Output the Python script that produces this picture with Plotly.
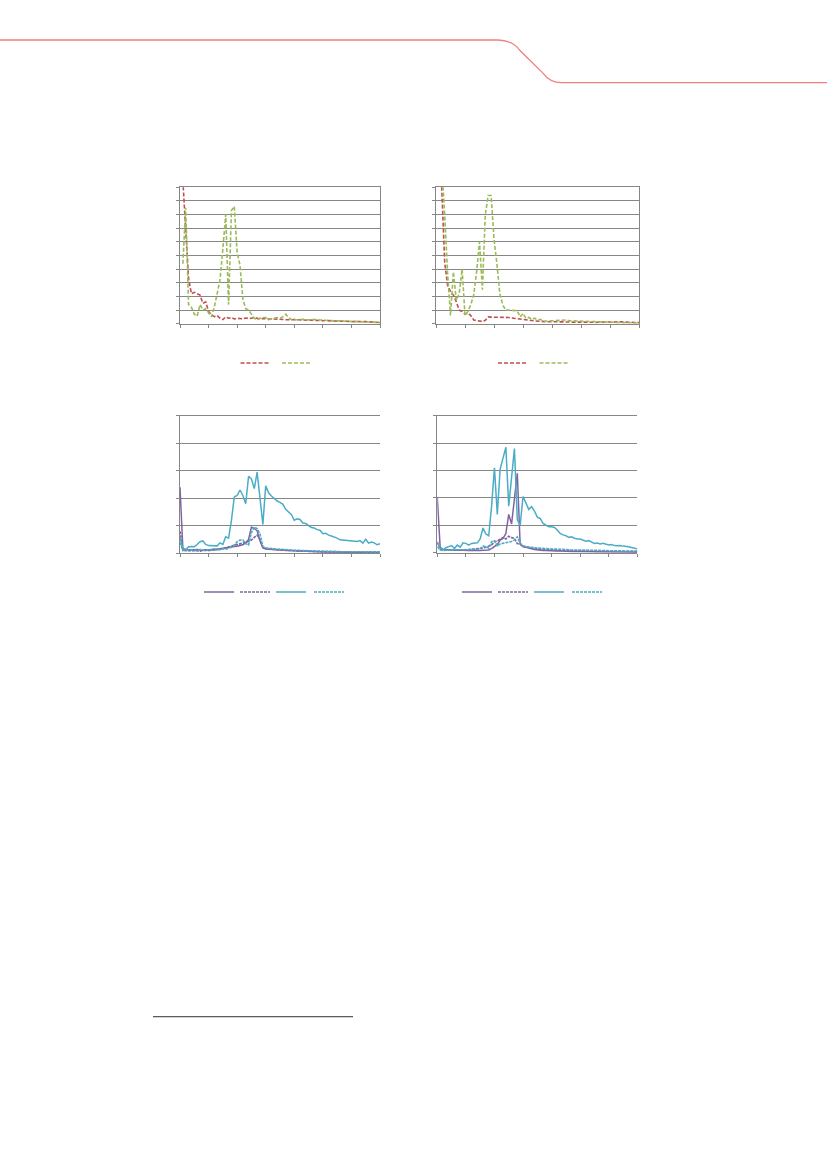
import plotly.graph_objects as go

# shared x positions (index along the horizontal axis)
x_vals = list(range(0, 141, 2))
x_ticks = list(range(0, 141, 20))

# ---- chart 1 (top left), 0-100 scale
c1_red = [None, 105, 65, 33, 22, 23, 22, 21, 15, 16,
          9, 6.5, 5.2, 6, 4, 3, 5, 4, 4.5, 3.5,
          4, 3.8, 3.5, 4.2, 3.8, 4, 4.5, 4, 3.5, 3.8,
          3.5, 3.6, 3.3, 3.5, 3.2, 3.4, 3.1, 3.0, 3.2, 2.9,
          3.0, 2.8, 2.9, 2.6, 2.7, 2.5, 2.6, 2.4, 2.5, 2.3,
          2.2, 2.3, 2.1, 2.0, 2.1, 1.9, 1.8, 1.9, 1.7, 1.6,
          1.7, 1.5, 1.6, 1.4, 1.3, 1.5, 1.4, 1.2, 1.4, 1.1,
          0.8]
c1_green = [None, 44, 85, 14, 12, 7, 5.5, 14, 10, 11,
            8, 5, 12, 23, 32, 55, 80, 14, 83, 86,
            52, 43, 18, 11, 10, 7, 4, 2.7, 4, 4.5,
            4.5, 3, 3.5, 3.5, 4.5, 4, 5, 7, 4.5, 3,
            2.8, 2.9, 3, 3.2, 2.8, 3, 3.2, 2.9, 3.1, 2.7,
            2.5, 2.6, 2.3, 2.4, 2.1, 2.2, 2.0, 1.9, 2.0, 1.7,
            1.6, 1.7, 1.5, 1.3, 1.4, 1.2, 1.3, 1.1, 1.0, 0.9,
            0.8]

# ---- chart 2 (top right), 0-100 scale
c2_red = [None, 140, 98, 45, 28, 23.5, 21, 16, 10, 9,
          7, 7.8, 6, 2.7, 2.3, 2, 1.6, 2.5, 5, 4.8,
          4.8, 5, 5, 5, 5, 4.6, 4.2, 4, 3.7, 3.4,
          3.2, 3, 2.7, 2.4, 2.0, 1.8, 1.6, 1.5, 1.5, 1.4,
          1.5, 1.4, 1.3, 1.4, 1.3, 1.2, 1.3, 1.2, 1.1, 1.2,
          1.1, 1.0, 1.1, 1.0, 0.9, 1.0, 1.1, 1.2, 1.3, 1.4,
          1.5, 1.4, 1.5, 1.3, 1.4, 1.2, 1.1, 1.0, 0.9, 0.8,
          0.8]
c2_green = [None, 140, 115, 80, 37, 6, 38, 17, 22, 40,
            6, 9, 14, 21, 38, 60, 25, 80, 94, 94,
            62, 44, 22, 14, 10, 10, 10, 10, 9.5, 5,
            7.6, 4, 4.6, 3.2, 4, 2.7, 3.2, 1.7, 2, 2.1,
            2.2, 2.2, 2.3, 2.4, 2.5, 2.7, 2.2, 2.1, 2, 1.9,
            1.8, 1.7, 1.6, 1.5, 1.4, 1.2, 1.2, 1.1, 1.1, 1.0,
            1.0, 1.0, 0.9, 0.9, 0.8, 0.8, 0.7, 0.7, 0.6, 0.5,
            0.5]

# ---- chart 3 (bottom left), 0-50 scale
c3_purple = [24, 1.8, 1.4, 1.2, 1.2, 1.3, 1.4, 1.2, 1.1, 1.3,
             1.2, 1.4, 1.6, 1.5, 1.7, 1.9, 2.1, 2.2, 2.3, 2.5,
             2.6, 2.8, 3.1, 3.8, 5, 9.5, 9, 8.2, 4.5, 2,
             1.6, 1.5, 1.4, 1.3, 1.2, 1.2, 1.1, 1.1, 1.0, 1.0,
             0.9, 0.9, 0.8, 0.8, 0.8, 0.7, 0.7, 0.7, 0.6, 0.6,
             0.6, 0.5, 0.5, 0.5, 0.5, 0.4, 0.4, 0.4, 0.4, 0.4,
             0.3, 0.3, 0.3, 0.3, 0.3, 0.3, 0.3, 0.3, 0.3, 0.3,
             0.3]
c3_purple_d = [8, 1.2, 0.9, 0.8, 0.9, 1.0, 0.9, 0.8, 1.0, 0.9,
               1.0, 1.1, 1.2, 1.3, 1.5, 1.8, 2.0, 2.3, 2.6, 2.9,
               3.1, 3.4, 3.7, 4.0, 4.4, 4.8, 5.8, 6.6, 5.0, 2.2,
               1.8, 1.6, 1.5, 1.4, 1.3, 1.2, 1.1, 1.0, 1.0, 0.9,
               0.9, 0.8, 0.8, 0.8, 0.7, 0.7, 0.7, 0.6, 0.6, 0.6,
               0.5, 0.5, 0.5, 0.5, 0.5, 0.5, 0.5, 0.5, 0.5, 0.5,
               0.4, 0.4, 0.4, 0.4, 0.4, 0.4, 0.4, 0.4, 0.4, 0.4,
               0.4]
c3_teal = [6, 1.5, 1.3, 2.4, 2.5, 2.4, 3.2, 4.2, 4.5, 3.2,
           2.8, 2.8, 2.6, 2.7, 3.8, 3.2, 6, 5.5, 12, 20.5,
           21, 23, 21, 18, 28, 27, 23.5, 29.5, 20, 10.5,
           24.5, 22, 20.8, 19.8, 19, 18.5, 17.8, 16, 15, 14,
           12, 12.5, 12.3, 11, 10.8, 10, 9.4, 9.2, 8.6, 8.4,
           7.1, 7.3, 6.6, 6.3, 6, 5.5, 4.9, 4.8, 4.9, 4.7,
           4.7, 4.6, 4.3, 4.6, 3.7, 5.1, 3.7, 4.1, 3.8, 3.1,
           3.5]
c3_teal_d = [4, 1.0, 1.2, 1.3, 1.1, 1.0, 1.2, 1.4, 1.2, 1.1,
             1.3, 1.2, 1.1, 1.4, 1.3, 1.6, 1.5, 1.8, 2.2, 3.0,
             4.2, 4.8, 4.8, 3.5, 3.0, 7.5, 9.5, 9.0, 7.0, 2.5,
             2.0, 1.8, 1.7, 1.6, 1.5, 1.4, 1.3, 1.3, 1.2, 1.2,
             1.1, 1.1, 1.0, 1.0, 1.0, 0.9, 0.9, 0.9, 0.8, 0.8,
             0.8, 0.7, 0.7, 0.7, 0.7, 0.6, 0.6, 0.6, 0.6, 0.6,
             0.5, 0.5, 0.5, 0.5, 0.5, 0.5, 0.5, 0.5, 0.5, 0.5,
             0.5]

# ---- chart 4 (bottom right), 0-50 scale
c4_purple = [20, 2, 1.2, 1.1, 1.0, 1.0, 0.9, 1.0, 0.9, 1.0,
             0.9, 0.8, 0.9, 0.8, 0.9, 0.8, 0.9, 0.9, 1.0, 1.5,
             2.2, 3, 4.6, 5.2, 7, 14, 10.5, 20, 29, 3,
             2.2, 2.0, 1.6, 1.4, 1.2, 1.0, 0.9, 0.8, 0.8, 0.7,
             0.7, 0.6, 0.6, 0.6, 0.5, 0.5, 0.5, 0.4, 0.4, 0.4,
             0.4, 0.4, 0.4, 0.4, 0.4, 0.3, 0.3, 0.3, 0.3, 0.3,
             0.3, 0.3, 0.3, 0.3, 0.3, 0.3, 0.3, 0.3, 0.3, 0.3,
             0.2]
c4_purple_d = [4, 1.2, 1.0, 0.9, 1.0, 1.1, 1.0, 0.9, 1.0, 1.1,
               1.0, 1.1, 1.2, 1.3, 1.4, 1.5, 1.7, 2.0, 2.4, 2.8,
               4, 4.2, 5, 5.5, 5, 6, 5.5, 5.2, 3.3, 3.2,
               2.3, 2.1, 1.9, 1.7, 1.5, 1.4, 1.3, 1.2, 1.1, 1.0,
               1.0, 0.9, 0.9, 0.8, 0.8, 0.8, 0.7, 0.7, 0.7, 0.6,
               0.6, 0.6, 0.6, 0.6, 0.6, 0.5, 0.5, 0.5, 0.5, 0.5,
               0.5, 0.5, 0.5, 0.5, 0.5, 0.4, 0.4, 0.4, 0.4, 0.4,
               0.4]
c4_teal = [3.4, 1.6, 1, 1.8, 2.2, 2.6, 1.5, 2.8, 2, 3.6,
           3.4, 2.8, 3.4, 3.6, 3.6, 5, 9, 6.8, 6.2, 17,
           31, 14, 30.5, 34.5, 38.5, 17, 27, 38, 12, 10,
           20.5, 18, 15.8, 16.8, 15.2, 13, 12.5, 10.7, 10, 9.5,
           9.5, 9.2, 8.3, 7, 6.5, 6.2, 5.6, 5.8, 5.3, 5,
           5, 4.6, 4.2, 4.4, 3.8, 3.4, 3.5, 3.2, 3.4, 3,
           2.8, 3, 2.6, 2.5, 2.6, 2.4, 2.4, 2.2, 1.9, 1.7,
           1.4]
c4_teal_d = [2.2, 1.0, 0.8, 0.9, 1.0, 0.9, 1.0, 1.1, 1.0, 1.1,
             1.2, 1.1, 1.2, 1.3, 1.2, 1.5, 2.4, 2.2, 1.6, 4,
             4.4, 2.4, 3.2, 3.4, 3.6, 3.8, 4.1, 4.7, 5.8, 3.5,
             2.5, 2.2, 2.0, 1.9, 1.8, 1.7, 1.6, 1.5, 1.5, 1.4,
             1.4, 1.3, 1.3, 1.2, 1.2, 1.1, 1.1, 1.0, 1.0, 1.0,
             0.9, 0.9, 0.9, 0.9, 0.9, 0.8, 0.8, 0.8, 0.8, 0.8,
             0.7, 0.7, 0.7, 0.7, 0.7, 0.6, 0.6, 0.6, 0.6, 0.6,
             0.6]

RED = "#C0504D"
GREEN = "#9BBB59"
PURPLE = "#8064A2"
TEAL = "#4BACC6"
GRID = "#868686"

W, H = 827, 1170


def px_x(p):
    return p / W


def px_y(p):
    return 1 - p / H


fig = go.Figure()

# (axis suffix, series list, legend centers px, legend y px)
charts = [
    ("", [(c1_red, RED, "4px,2px"), (c1_green, GREEN, "4px,2px")], [255.5, 297], 363),
    ("2", [(c2_red, RED, "4px,2px"), (c2_green, GREEN, "4px,2px")], [513, 554.5], 363),
    ("3", [(c3_purple, PURPLE, "solid"), (c3_purple_d, PURPLE, "3px,1px"),
           (c3_teal, TEAL, "solid"), (c3_teal_d, TEAL, "3px,1px")], [219, 255, 291, 329], 592),
    ("4", [(c4_purple, PURPLE, "solid"), (c4_purple_d, PURPLE, "3px,1px"),
           (c4_teal, TEAL, "solid"), (c4_teal_d, TEAL, "3px,1px")], [477, 513, 549, 587], 592),
]

leg_i = 0
layout_legends = {}
for suffix, series, centers, ly in charts:
    for (vals, col, dash), cx in zip(series, centers):
        leg_i += 1
        lname = "legend" if leg_i == 1 else f"legend{leg_i}"
        fig.add_trace(go.Scatter(
            x=x_vals, y=vals, mode="lines", name=" ",
            line=dict(color=col, width=1.6 if dash != "solid" else 1.5, dash=dash),
            xaxis="x" + suffix, yaxis="y" + suffix,
            legend=lname, hoverinfo="skip",
        ))
        layout_legends[lname] = dict(
            x=px_x(cx - 20), y=px_y(ly), xanchor="left", yanchor="middle",
            orientation="h", bgcolor="rgba(0,0,0,0)", font=dict(size=8),
        )

# plot-area domains (pixels)
domains = {
    "": ((180, 380), (187.3, 323.7), 100, True),
    "2": ((436, 639), (187.3, 323.7), 100, True),
    "3": ((180, 380), (415.7, 553.3), 50, False),
    "4": ((437.3, 637.3), (415.7, 552.7), 50, False),
}

layout = dict(
    width=W, height=H, autosize=False,
    margin=dict(l=0, r=0, t=0, b=0),
    paper_bgcolor="white", plot_bgcolor="white",
    showlegend=True,
)
layout.update(layout_legends)

for suffix, ((x0, x1), (y0, y1), ymax, right_line) in domains.items():
    layout["xaxis" + suffix] = dict(
        domain=[px_x(x0), px_x(x1)], range=[0, 140], anchor="y" + suffix,
        tickvals=x_ticks, ticks="outside", ticklen=3, tickcolor=GRID, tickwidth=1,
        showticklabels=False, showgrid=False, zeroline=False,
        showline=True, linecolor=GRID, linewidth=1, mirror=True,
    )
    layout["yaxis" + suffix] = dict(
        domain=[px_y(y1), px_y(y0)], range=[0, ymax], anchor="x" + suffix,
        dtick=10, tick0=0, ticks="outside", ticklen=3, tickcolor=GRID, tickwidth=1,
        showticklabels=False, showgrid=True, gridcolor=GRID, gridwidth=1,
        zeroline=False, showline=True, linecolor=GRID, linewidth=1,
        mirror=right_line,
    )

# decorative page header line and footnote rule (paper coordinates)
hdr = [(0, 40), (498, 40), (511.6, 43.3), (519.5, 50), (543.2, 73.3),
       (551, 80), (561.7, 82.7), (827, 82.7)]
p = "M {:.5f},{:.5f}".format(px_x(hdr[0][0]), px_y(hdr[0][1]))
p += " L {:.5f},{:.5f}".format(px_x(hdr[1][0]), px_y(hdr[1][1]))
p += " Q {:.5f},{:.5f} {:.5f},{:.5f}".format(px_x(513), px_y(40.5), px_x(hdr[3][0]), px_y(hdr[3][1]))
p += " L {:.5f},{:.5f}".format(px_x(hdr[4][0]), px_y(hdr[4][1]))
p += " Q {:.5f},{:.5f} {:.5f},{:.5f}".format(px_x(550), px_y(82.7), px_x(hdr[6][0]), px_y(hdr[6][1]))
p += " L {:.5f},{:.5f}".format(px_x(hdr[7][0]), px_y(hdr[7][1]))

layout["shapes"] = [
    dict(type="path", xref="paper", yref="paper", path=p,
         line=dict(color="#F07F7F", width=1.3)),
    dict(type="line", xref="paper", yref="paper",
         x0=px_x(153), x1=px_x(353), y0=px_y(1016.7), y1=px_y(1016.7),
         line=dict(color="#5A5A5A", width=1.2)),
]

fig.update_layout(**layout)
fig.write_html(
    "out.html",
    config={"displayModeBar": False, "staticPlot": True},
    post_script="document.body.style.margin='0';document.body.style.overflow='hidden';",
)
